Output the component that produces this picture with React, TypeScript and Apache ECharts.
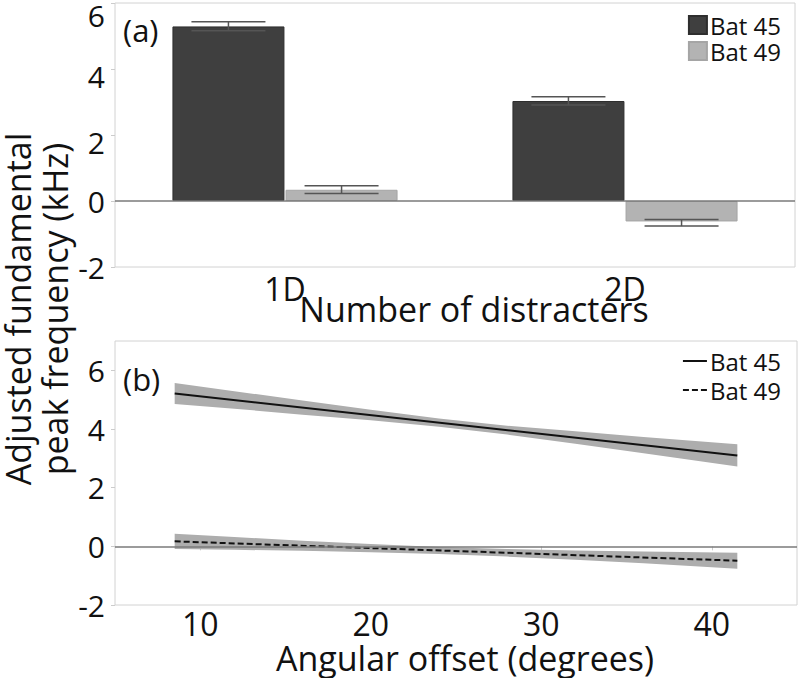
import React, { useEffect, useRef } from "react";
import * as echarts from "echarts";

// ---- Panel (a): bar chart ----
const categories = ["1D", "2D"];
const bat45Bars = [5.29, 3.03];
const bat49Bars = [0.34, -0.62];
const bat45ErrLow = [5.16, 2.91];
const bat45ErrHigh = [5.43, 3.16];
const bat49ErrLow = [0.23, -0.76];
const bat49ErrHigh = [0.46, -0.56];
const topYTicks = { min: -2, max: 6, interval: 2 };

// ---- Panel (b): regression lines with confidence bands ----
const lineX = [8.5, 41.5];
const bat45Line = [5.21, 3.1];
const bat49Line = [0.17, -0.49];
const bandX = [8.5, 12, 16, 20, 24, 28, 32, 36, 41.5];
const bat45Upper = [5.57, 5.29, 4.97, 4.66, 4.36, 4.11, 3.92, 3.73, 3.48];
const bat45Lower = [4.85, 4.69, 4.49, 4.3, 4.08, 3.81, 3.5, 3.17, 2.72];
const bat49Upper = [0.43, 0.32, 0.19, 0.08, -0.02, -0.09, -0.14, -0.18, -0.22];
const bat49Lower = [-0.09, -0.12, -0.15, -0.2, -0.26, -0.35, -0.46, -0.58, -0.76];
const bottomX = { min: 5, max: 45 };
const bottomY = { min: -2, max: 7, interval: 2 };

const FONT = "Open Sans";
const TEXT = "#111111";
const DARK = "#3f3f3f";
const LIGHT = "#b3b3b3";
const BAND = "#adadad";
const FRAME = "#d2d2d2";
const BAR_WIDTH = 112;
const BAR_GAP_PX = 1.12;

function errRender(offsetSign: number) {
  return (params: any, api: any) => {
    const ci = api.value(0);
    const lo = api.coord([ci, api.value(1)]);
    const hi = api.coord([ci, api.value(2)]);
    const x = lo[0] + offsetSign * (BAR_WIDTH + BAR_GAP_PX) / 2;
    const cap = 37;
    const style = { stroke: "#555555", lineWidth: 1.5 };
    return {
      type: "group",
      children: [
        { type: "line", shape: { x1: x, y1: lo[1], x2: x, y2: hi[1] }, style },
        { type: "line", shape: { x1: x - cap, y1: lo[1], x2: x + cap, y2: lo[1] }, style },
        { type: "line", shape: { x1: x - cap, y1: hi[1], x2: x + cap, y2: hi[1] }, style },
      ],
    };
  };
}

function bandRender(upper: number[], lower: number[]) {
  return (params: any, api: any) => {
    if (params.dataIndex !== 0) return null;
    const pts: number[][] = [];
    for (let i = 0; i < bandX.length; i++) pts.push(api.coord([bandX[i], upper[i]]));
    for (let i = bandX.length - 1; i >= 0; i--) pts.push(api.coord([bandX[i], lower[i]]));
    return { type: "polygon", shape: { points: pts }, style: { fill: BAND } };
  };
}

export default function App() {
  const ref = useRef<HTMLDivElement>(null);
  useEffect(() => {
    document.body.style.margin = "0";
    const chart = echarts.init(ref.current!, null, { renderer: "svg" });
    const zeroLine = {
      silent: true,
      symbol: ["none", "none"],
      label: { show: false },
      lineStyle: { color: "#7a7a7a", width: 1.5, type: "solid" },
      data: [{ yAxis: 0 }],
    };
    const option: any = {
      animation: false,
      backgroundColor: "#ffffff",
      textStyle: { fontFamily: FONT },
      grid: [
        { left: 115, right: 5, top: 3, height: 264, show: true, borderColor: FRAME, borderWidth: 1 },
        { left: 115, right: 3, top: 341, height: 264, show: true, borderColor: FRAME, borderWidth: 1 },
      ],
      legend: [
        {
          data: ["Bat 45", "Bat 49"],
          orient: "vertical",
          right: 14,
          top: 8,
          itemWidth: 18,
          itemHeight: 18,
          itemGap: 2,
          icon: "rect",
          textStyle: { fontFamily: FONT, fontSize: 24, color: TEXT, padding: [0, 0, 0, -2] },
        },
        {
          data: ["Bat 45 (b)", "Bat 49 (b)"],
          orient: "vertical",
          right: 14,
          top: 344,
          itemWidth: 24,
          itemHeight: 12,
          itemGap: 5,
          itemStyle: { opacity: 0 },
          formatter: (n: string) => n.replace(" (b)", ""),
          textStyle: { fontFamily: FONT, fontSize: 24, color: TEXT, padding: [0, 0, 0, -2] },
        },
      ],
      xAxis: [
        {
          type: "category",
          gridIndex: 0,
          data: categories,
          axisLine: { show: false },
          axisTick: { show: false },
          axisLabel: { fontFamily: FONT, fontSize: 32, color: TEXT, margin: 5 },
        },
        {
          type: "value",
          gridIndex: 1,
          min: bottomX.min,
          max: bottomX.max,
          splitNumber: 4,
          splitLine: { show: false },
          axisLine: { show: false },
          axisTick: { show: true, length: 4, lineStyle: { color: "#cccccc" } },
          axisLabel: {
            fontFamily: FONT,
            fontSize: 32,
            color: TEXT,
            margin: 2,
            showMinLabel: false,
            showMaxLabel: false,
          },
        },
      ],
      yAxis: [
        {
          type: "value",
          gridIndex: 0,
          min: topYTicks.min,
          max: topYTicks.max,
          interval: topYTicks.interval,
          splitLine: { show: false },
          axisLine: { show: false },
          axisTick: { show: true, length: 4, lineStyle: { color: "#cccccc" } },
          axisLabel: {
            fontFamily: FONT,
            fontSize: 30,
            color: TEXT,
            margin: 10,
            formatter: (v: number) => (v === 6 ? `{a|${v}}` : v === 4 || v === 2 ? `{b|${v}}` : `${v}`),
            rich: {
              a: { fontFamily: FONT, fontSize: 30, color: TEXT, padding: [24, 0, 0, 0] },
              b: { fontFamily: FONT, fontSize: 30, color: TEXT, padding: [14, 0, 0, 0] },
            },
          },
        },
        {
          type: "value",
          gridIndex: 1,
          min: bottomY.min,
          max: bottomY.max,
          interval: bottomY.interval,
          splitLine: { show: false },
          axisLine: { show: false },
          axisTick: { show: true, length: 4, lineStyle: { color: "#cccccc" } },
          axisLabel: { fontFamily: FONT, fontSize: 30, color: TEXT, margin: 10, showMaxLabel: false },
        },
      ],
      series: [
        {
          name: "Bat 45",
          type: "bar",
          xAxisIndex: 0,
          yAxisIndex: 0,
          data: bat45Bars,
          barWidth: BAR_WIDTH,
          barGap: "1%",
          itemStyle: { color: DARK, borderColor: "#2e2e2e", borderWidth: 1 },
          markLine: zeroLine,
          z: 2,
        },
        {
          name: "Bat 49",
          type: "bar",
          xAxisIndex: 0,
          yAxisIndex: 0,
          data: bat49Bars,
          barWidth: BAR_WIDTH,
          barGap: "1%",
          itemStyle: { color: LIGHT, borderColor: "#a5a5a5", borderWidth: 1 },
          z: 2,
        },
        {
          type: "custom",
          xAxisIndex: 0,
          yAxisIndex: 0,
          data: categories.map((_, i) => [i, bat45ErrLow[i], bat45ErrHigh[i]]),
          encode: { x: 0, y: [1, 2] },
          renderItem: errRender(-1),
          z: 5,
          silent: true,
        },
        {
          type: "custom",
          xAxisIndex: 0,
          yAxisIndex: 0,
          data: categories.map((_, i) => [i, bat49ErrLow[i], bat49ErrHigh[i]]),
          encode: { x: 0, y: [1, 2] },
          renderItem: errRender(1),
          z: 5,
          silent: true,
        },
        {
          type: "custom",
          xAxisIndex: 1,
          yAxisIndex: 1,
          data: bandX.map((x, i) => [x, bat45Upper[i], bat45Lower[i]]),
          encode: { x: 0, y: [1, 2] },
          renderItem: bandRender(bat45Upper, bat45Lower),
          z: 2,
          silent: true,
        },
        {
          type: "custom",
          xAxisIndex: 1,
          yAxisIndex: 1,
          data: bandX.map((x, i) => [x, bat49Upper[i], bat49Lower[i]]),
          encode: { x: 0, y: [1, 2] },
          renderItem: bandRender(bat49Upper, bat49Lower),
          z: 2,
          silent: true,
        },
        {
          name: "Bat 45 (b)",
          type: "line",
          xAxisIndex: 1,
          yAxisIndex: 1,
          data: lineX.map((x, i) => [x, bat45Line[i]]),
          symbol: "none",
          showSymbol: false,
          lineStyle: { color: "#111111", width: 2 },
          itemStyle: { color: "#111111" },
          markLine: zeroLine,
          z: 4,
        },
        {
          name: "Bat 49 (b)",
          type: "line",
          xAxisIndex: 1,
          yAxisIndex: 1,
          data: lineX.map((x, i) => [x, bat49Line[i]]),
          symbol: "none",
          showSymbol: false,
          lineStyle: { color: "#111111", width: 2, type: [6, 3] },
          itemStyle: { color: "#111111" },
          z: 4,
        },
      ],
      graphic: [
        {
          type: "text",
          x: 36,
          y: 309,
          rotation: Math.PI / 2,
          style: {
            text: "Adjusted fundamental\npeak frequency (kHz)",
            fontFamily: FONT,
            fontSize: 34,
            lineHeight: 37,
            fill: TEXT,
            align: "center",
            verticalAlign: "middle",
          },
        },
        {
          type: "text",
          x: 474,
          y: 309,
          style: {
            text: "Number of distracters",
            fontFamily: FONT,
            fontSize: 34,
            fill: TEXT,
            align: "center",
            verticalAlign: "middle",
          },
        },
        {
          type: "text",
          x: 465,
          y: 658,
          style: {
            text: "Angular offset (degrees)",
            fontFamily: FONT,
            fontSize: 34,
            fill: TEXT,
            align: "center",
            verticalAlign: "middle",
          },
        },
        {
          type: "text",
          x: 123,
          y: 30,
          style: { text: "(a)", fontFamily: FONT, fontSize: 31, fill: TEXT, align: "left", verticalAlign: "middle" },
        },
        {
          type: "text",
          x: 123,
          y: 379,
          style: { text: "(b)", fontFamily: FONT, fontSize: 31, fill: TEXT, align: "left", verticalAlign: "middle" },
        },
      ],
    };
    chart.setOption(option);
    return () => chart.dispose();
  }, []);
  return <div ref={ref} style={{ width: 800, height: 678 }} />;
}
